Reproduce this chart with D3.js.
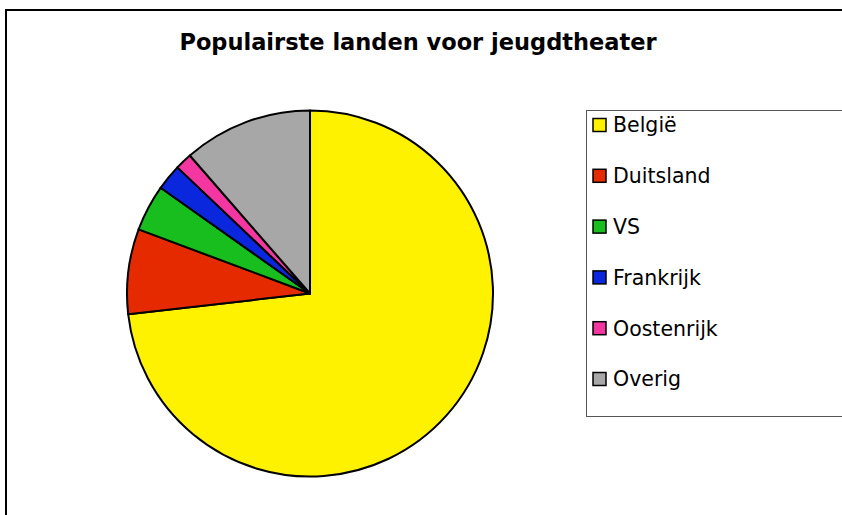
<!DOCTYPE html>
<html lang="nl">
<head>
  <meta charset="UTF-8">
  <title>Populairste landen voor jeugdtheater</title>
  <script src="https://cdn.jsdelivr.net/npm/d3@7"></script>
  <style>
    body { margin: 0; padding: 0; background: #fff; overflow: hidden; }
    svg text { font-family: "DejaVu Sans", Verdana, sans-serif; }
  </style>
</head>
<body>
<div id="chart"></div>
<script>
// data (percentages)
var countries = ["België", "Duitsland", "VS", "Frankrijk", "Oostenrijk", "Overig"];
var shares = [73.2, 7.5, 4.1, 2.3, 1.5, 11.4];
var colours = ["#fff200", "#e62a00", "#17be1d", "#0b27dd", "#f437a0", "#a7a7a7"];

var w = 842, h = 515;

var svg = d3.select("#chart")
            .append("svg")
            .attr("width", w)
            .attr("height", h);

// outer frame, runs off the right and bottom edges
svg.append("rect")
   .attr("x", 6).attr("y", 10)
   .attr("width", 900).attr("height", 600)
   .attr("fill", "#fff")
   .attr("stroke", "#000")
   .attr("stroke-width", 2);

svg.append("text")
   .attr("x", 418).attr("y", 50)
   .attr("text-anchor", "middle")
   .attr("font-size", 22.5)
   .attr("font-weight", "bold")
   .text("Populairste landen voor jeugdtheater");

// pie
var cx = 310, cy = 293.5, r = 183;
var pie = d3.pie().sort(null).value(function(d) { return d; });
var arc = d3.arc().innerRadius(0).outerRadius(r);

var g = svg.append("g")
           .attr("transform", "translate(" + cx + "," + cy + ")");

g.selectAll("path")
 .data(pie(shares))
 .enter()
 .append("path")
 .attr("d", arc)
 .attr("fill", function(d, i) { return colours[i]; })
 .attr("stroke", "#000")
 .attr("stroke-width", 2)
 .attr("stroke-linejoin", "round");

// legend
var lx = 586.5, ly = 110.5, step = 50.8, fs = 20.5;
svg.append("rect")
   .attr("x", lx).attr("y", ly)
   .attr("width", 300).attr("height", 306)
   .attr("fill", "#fff")
   .attr("stroke", "#555")
   .attr("stroke-width", 1);

var items = svg.selectAll("g.item")
               .data(countries)
               .enter()
               .append("g")
               .attr("class", "item")
               .attr("transform", function(d, i) {
                 return "translate(" + lx + "," + (125 + i * step) + ")";
               });

items.append("rect")
     .attr("x", 6.5).attr("y", -6.5)
     .attr("width", 13).attr("height", 13)
     .attr("fill", function(d, i) { return colours[i]; })
     .attr("stroke", "#000")
     .attr("stroke-width", 1.5);

items.append("text")
     .attr("x", 26.5)
     .attr("y", fs * 0.36)
     .attr("font-size", fs)
     .text(function(d) { return d; });
</script>
</body>
</html>
